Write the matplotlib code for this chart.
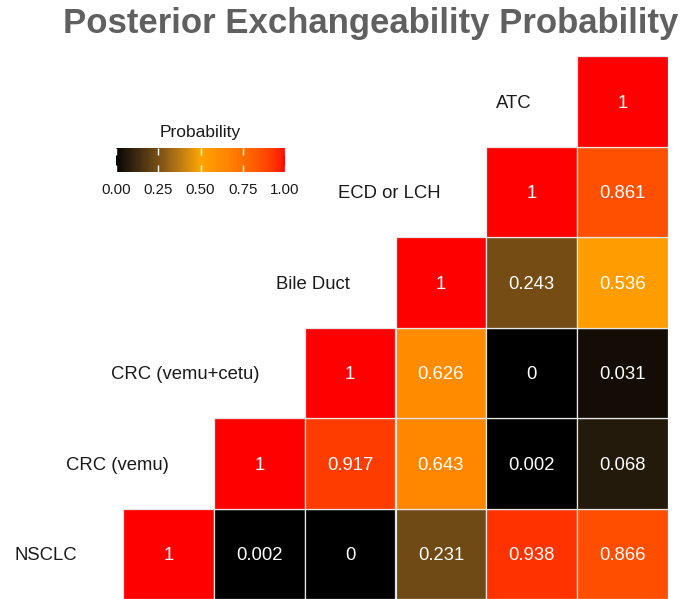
import numpy as np
import matplotlib
matplotlib.use('Agg')
import matplotlib.pyplot as plt
from matplotlib.colors import ListedColormap, Normalize, to_rgb
from matplotlib.cm import ScalarMappable

plt.rcParams['font.family'] = ['Liberation Sans', 'DejaVu Sans']

# Datos: probabilidades de intercambiabilidad (triangulo superior, fila por fila)
grupos = ['NSCLC', 'CRC (vemu)', 'CRC (vemu+cetu)', 'Bile Duct', 'ECD or LCH', 'ATC']
fila_nsclc = [1, 0.002, 0, 0.231, 0.938, 0.866]
fila_crc_vemu = [1, 0.917, 0.643, 0.002, 0.068]
fila_crc_cetu = [1, 0.626, 0, 0.031]
fila_bile = [1, 0.243, 0.536]
fila_ecd = [1, 0.861]
fila_atc = [1]
filas = [fila_nsclc, fila_crc_vemu, fila_crc_cetu, fila_bile, fila_ecd, fila_atc]
ticks = [0, 0.25, 0.5, 0.75, 1]
tick_labels = ['0.00', '0.25', '0.50', '0.75', '1.00']


# ------------------------------------------------------------
# Escala de color black -> orange -> red interpolada en Lab (como ggplot)
def rgb2lab(c):
    c = np.array(c)
    lin = np.where(c > 0.04045, ((c + 0.055) / 1.055) ** 2.4, c / 12.92)
    M = np.array([[0.4124, 0.3576, 0.1805],
                  [0.2126, 0.7152, 0.0722],
                  [0.0193, 0.1192, 0.9505]])
    xyz = M @ lin / np.array([0.95047, 1.0, 1.08883])
    f = np.where(xyz > 0.008856, np.cbrt(xyz), 7.787 * xyz + 16 / 116)
    return np.array([116 * f[1] - 16, 500 * (f[0] - f[1]), 200 * (f[1] - f[2])])


def lab2rgb(lab):
    L, a, b = lab
    fy = (L + 16) / 116
    f = np.array([fy + a / 500, fy, fy - b / 200])
    xyz = np.where(f > 0.2069, f ** 3, (f - 16 / 116) / 7.787) * np.array([0.95047, 1.0, 1.08883])
    M = np.array([[3.2406, -1.5372, -0.4986],
                  [-0.9689, 1.8758, 0.0415],
                  [0.0557, -0.2040, 1.0570]])
    lin = M @ xyz
    c = np.where(lin > 0.0031308, 1.055 * np.abs(lin) ** (1 / 2.4) - 0.055, 12.92 * lin)
    return np.clip(c, 0, 1)


low, mid, high = rgb2lab(to_rgb('black')), rgb2lab(to_rgb('orange')), rgb2lab(to_rgb('red'))
colores = []
for t in np.linspace(0, 1, 256):
    if t <= 0.5:
        colores.append(lab2rgb(low + (mid - low) * t / 0.5))
    else:
        colores.append(lab2rgb(mid + (high - mid) * (t - 0.5) / 0.5))
cmap = ListedColormap(colores)
norm = Normalize(0, 1)

# ------------------------------------------------------------
fig = plt.figure(figsize=(6.84, 5.99), dpi=100)
ax = fig.add_axes([123 / 684, 0, 545 / 684, 543 / 599])
ax.set_xlim(-0.5, 5.5)
ax.set_ylim(-0.5, 5.5)
ax.axis('off')

for i, fila in enumerate(filas):
    for k, v in enumerate(fila):
        j = i + k
        ax.add_patch(plt.Rectangle((j - 0.5, i - 0.5), 1, 1, facecolor=cmap(norm(v)),
                                   edgecolor='#e6e6e6', linewidth=0.9))
        ax.text(j, i, '{:g}'.format(v), ha='center', va='center_baseline',
                color='white', fontsize=13.3)
    ax.text(i - 1, i, grupos[i], ha='right', va='center_baseline', color='#1a1a1a',
            fontsize=13.3, clip_on=False)

fig.text(371 / 684, 1 - 24 / 599, 'Posterior Exchangeability Probability',
         ha='center', va='center', fontsize=25, weight='bold', color='#606060')

# Leyenda (barra de color)
cax = fig.add_axes([116 / 684, 1 - 172 / 599, 169 / 684, 24 / 599])
cb = fig.colorbar(ScalarMappable(norm=norm, cmap=cmap), cax=cax, orientation='horizontal')
cb.outline.set_visible(False)
cb.set_ticks(ticks)
cb.set_ticklabels(tick_labels)
cax.tick_params(direction='in', color='white', length=5, width=1, top=True, bottom=True,
                labeltop=False, labelsize=10.8, pad=8, labelcolor='#1a1a1a')
fig.text(200 / 684, 1 - 132 / 599, 'Probability', ha='center', va='center',
         fontsize=12.5, color='#1a1a1a')

plt.savefig('out.png', dpi=100)
